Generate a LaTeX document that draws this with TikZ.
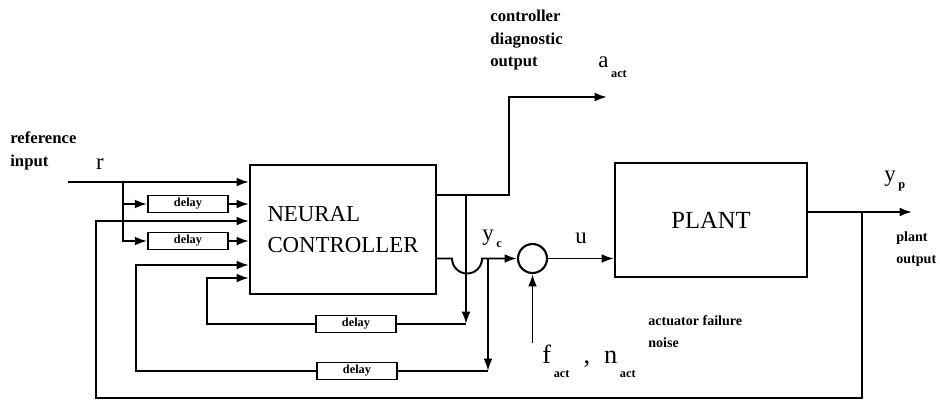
\documentclass[tikz,border=0pt]{standalone}
\usepackage{fontspec}
\setmainfont{Liberation Serif}
\usepackage{tikz}
\usetikzlibrary{arrows.meta, positioning, calc}
\newcommand{\lowsub}[2][-6pt]{\raisebox{#1}{\hspace{1.5pt}\fontsize{7}{7}\selectfont\bfseries #2}}
\tikzset{
  block/.style={rectangle, draw, line width=1.2pt, align=left,
    font=\fontsize{13}{18}\selectfont},
  dblock/.style={rectangle, draw, line width=1pt, minimum width=1.6cm,
    minimum height=0.34cm, inner sep=0pt, font=\fontsize{7}{7}\selectfont\bfseries},
  arrow/.style={-{Latex[length=7pt,width=5pt]}, line width=1.1pt},
  line/.style={line width=1.1pt},
  note/.style={align=left, inner sep=0pt, font=\fontsize{9.5}{13}\selectfont\bfseries},
  smallnote/.style={align=left, inner sep=0pt, font=\fontsize{8}{12.5}\selectfont\bfseries},
  var/.style={inner sep=0pt, font=\fontsize{13}{14}\selectfont}
}

\begin{document}
\begin{tikzpicture}[x=0.02cm, y=-0.02cm]
  \useasboundingbox (0,0) rectangle (940,407);

  % Controller, plant and summing junction
  \node[block, minimum width=3.72cm, minimum height=2.58cm] (ctrl) at (343,229.5) {NEURAL\\CONTROLLER\hspace{8pt}};
  \node[block, minimum width=3.84cm, minimum height=2.28cm, font=\fontsize{14}{16}\selectfont] (plant) at (711,220) {PLANT};
  \node[circle, draw, line width=1.2pt, minimum size=0.58cm, inner sep=0pt] (sum) at (532.5,258.5) {};

  % Delay blocks
  \node[dblock] (d1) at (188,204) {delay};
  \node[dblock] (d2) at (188,241) {delay};
  \node[dblock] (d3) at (356,324) {delay};
  \node[dblock] (d4) at (357,371) {delay};

  % Corner and branch points
  \coordinate (rin) at (68,182);
  \coordinate (rb) at (123,182);
  \coordinate (fbl) at (96,398);
  \coordinate (fbk) at (96,221);
  \coordinate (d3k) at (207,278);
  \coordinate (d4k) at (136,265);
  \coordinate (dg) at (509,195);
  \coordinate (db) at (466,195);
  \coordinate (aout) at (607,97);
  \coordinate (yc) at (488,258.5);
  \coordinate (fin) at (532.5,343);
  \coordinate (yp) at (912,212);
  \coordinate (pb) at (862,212);

  % Reference input and delayed copies
  \draw[arrow] (rin) -- (rin -| ctrl.west);
  \draw[arrow] (rb) |- (d1.west);
  \draw[arrow] (rb) |- (d2.west);
  \draw[arrow] (d1.east) -- (d1.east -| ctrl.west);
  \draw[arrow] (d2.east) -- (d2.east -| ctrl.west);

  % Controller outputs
  \draw[arrow] (dg -| ctrl.east) -- (dg) |- (aout);
  \draw[arrow] (db) -- (db |- d3.east);
  \draw[line] (db |- d3.east) -- (d3.east);
  \draw[arrow] (sum.west -| ctrl.east) -- ++(15,0)
    arc[start angle=180, end angle=360, radius=0.3cm] -- (sum.west);
  \draw[arrow] (yc) -- (yc |- d4.east);
  \draw[line] (yc |- d4.east) -- (d4.east);
  \draw[arrow] (d3.west) -| (d3k) -- (d3k -| ctrl.west);
  \draw[arrow] (d4.west) -| (d4k) -- (d4k -| ctrl.west);

  % Plant loop
  \draw[arrow] (sum.east) -- (sum.east -| plant.west);
  \draw[arrow] (fin) -- (sum.south);
  \draw[arrow] (yp -| plant.east) -- (yp);
  \draw[arrow] (pb) |- (fbl) -- (fbk) -- (fbk -| ctrl.west);

  % Labels
  \node[note, anchor=west] (refl) at (10,151) {reference\\input};
  \node[var] (rl) at (100,164) {r};
  \node[note, anchor=west] (diagl) at (490,40) {controller\\diagnostic\\output};
  \node[var, anchor=base west] (al) at (598,67) {a\lowsub{act}};
  \node[var, anchor=base west] (ycl) at (482,240) {y\lowsub[-4pt]{c}};
  \node[var] (ul) at (581,238) {u};
  \node[var, anchor=base west] (ypl) at (884,181) {y\lowsub[-4pt]{p}};
  \node[smallnote, anchor=west] (plantl) at (896,249) {plant\\output};
  \node[smallnote, anchor=west] (actl) at (648,332) {actuator failure\\noise};
  \node[var, anchor=base west, font=\fontsize{15}{16}\selectfont] (fnl) at (542,363)
    {f\lowsub[-8pt]{act}\hspace{8pt},\hspace{8pt}n\lowsub[-8pt]{act}};
\end{tikzpicture}
\end{document}
